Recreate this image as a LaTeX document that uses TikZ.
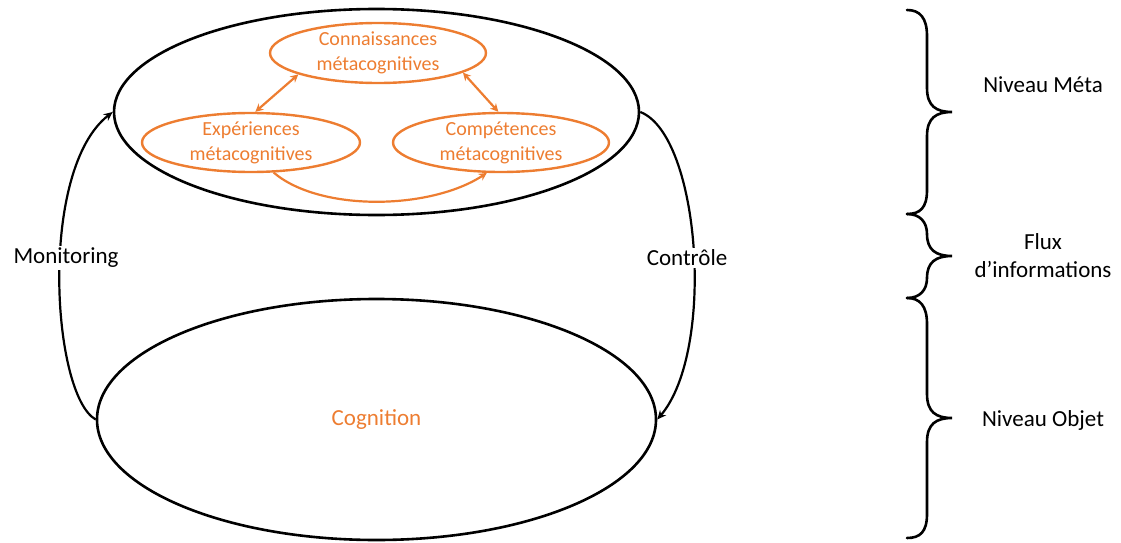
\documentclass[tikz,border=0pt]{standalone}
\usepackage{fontspec}
\setmainfont{Carlito}
\usetikzlibrary{shapes.geometric,arrows.meta}
\definecolor{office}{HTML}{ED7D31}
\tikzset{
  bigell/.style={ellipse, draw=black, line width=2.6pt, inner sep=0pt},
  smallell/.style={ellipse, draw=office, line width=2.4pt, text=office, align=center,
     inner xsep=0pt, inner ysep=-4pt, font=\fontsize{20}{25}\selectfont},
  orarrow/.style={draw=office, line width=2.2pt, {Stealth[length=8pt,width=8pt]}-{Stealth[length=8pt,width=8pt]}},
  orarrowone/.style={draw=office, line width=2.2pt, -{Stealth[length=8pt,width=8pt]}},
  blarrow/.style={draw=black, line width=2.2pt, -{Stealth[length=9pt,width=8pt]}},
  lab/.style={font=\fontsize{23}{27}\selectfont, fill=white, inner sep=2pt},
  rlab/.style={font=\fontsize{23}{28}\selectfont, align=center},
  bracestyle/.style={draw=black, line width=2.6pt, line cap=round}
}
\begin{document}
\begin{tikzpicture}[x=1pt,y=-1pt]
\useasboundingbox (0,0) rectangle (1121,543);
% big ellipses
\node[bigell, minimum width=525pt, minimum height=206pt] (meta) at (376.5,112) {};
\node[bigell, minimum width=559pt, minimum height=241pt, text=office, font=\fontsize{23}{27}\selectfont] (cog) at (376.5,419.5) {Cognition};
% inner ellipses
\node[smallell, minimum width=216pt, minimum height=60pt] (conn) at (378,53) {Connaissances\\métacognitives};
\node[smallell, minimum width=218pt, minimum height=59pt] (exp) at (251,142.5) {Expériences\\métacognitives};
\node[smallell, minimum width=216pt, minimum height=59pt] (comp) at (501,142.5) {Compétences\\métacognitives};
% orange arrows
\draw[orarrow] (exp.82) -- (conn.195);
\draw[orarrow] (conn.-13) -- (comp.95);
\draw[orarrowone] (exp.307) .. controls (320,212) and (430,210) .. (comp.245);
% monitoring / controle
\draw[blarrow] (cog.west) .. controls (52,395) and (38,170) .. (meta.west);
\draw[blarrow] (meta.east) .. controls (700,135) and (716,350) .. (cog.east);
\node[lab] (mon) at (66,258) {Monitoring};
\node[lab] (ctrl) at (687,258) {Contrôle};
% braces
\draw[bracestyle] (907,10) .. controls (920,10) and (927,18) .. (927,36) -- (927,88)
  .. controls (927,106) and (936,112) .. (952,112)
  .. controls (936,112) and (927,118) .. (927,136) -- (927,190)
  .. controls (927,208) and (920,214) .. (907,214);
\draw[bracestyle] (907,214) .. controls (920,214) and (927,222) .. (927,234)
  .. controls (927,250) and (936,256) .. (952,256)
  .. controls (936,256) and (927,262) .. (927,278)
  .. controls (927,290) and (920,298) .. (907,298);
\draw[bracestyle] (907,298) .. controls (920,298) and (927,306) .. (927,324) -- (927,394)
  .. controls (927,412) and (936,418) .. (952,418)
  .. controls (936,418) and (927,424) .. (927,442) -- (927,514)
  .. controls (927,532) and (920,538) .. (907,538);
% right labels
\node[rlab] (nmeta) at (1043,85) {Niveau Méta};
\node[rlab] (flux) at (1043,256) {Flux\\d’informations};
\node[rlab] (nobj) at (1043,420) {Niveau Objet};
\end{tikzpicture}
\end{document}
